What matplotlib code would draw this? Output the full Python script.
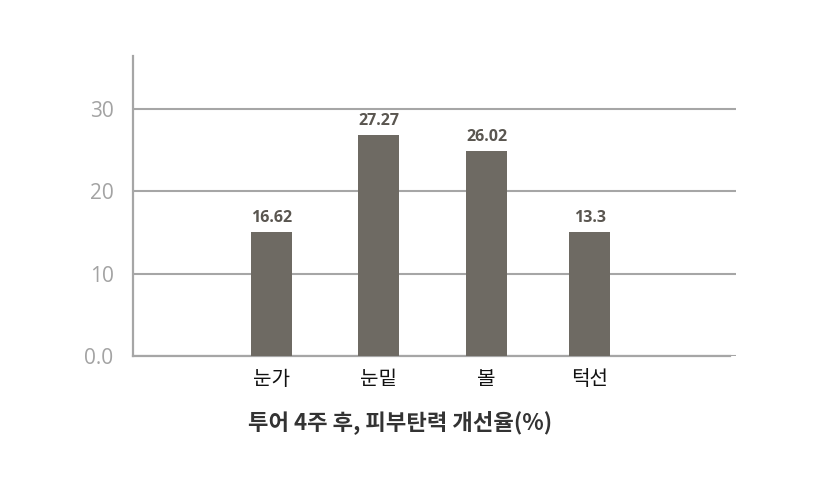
import matplotlib
matplotlib.use('Agg')
import matplotlib.pyplot as plt

# 데이터
categories = ['눈가', '눈밑', '볼', '턱선']
bar_heights = [15.1, 26.85, 24.9, 15.1]   # 그림에 그려진 막대 높이
bar_labels = ['16.62', '27.27', '26.02', '13.3']  # 막대 위 표시값
yticks = [0, 10, 20, 30]
ytick_labels = ['0.0', '10', '20', '30']
title = '투어 4주 후, 피부탄력 개선율(%)'

plt.rcParams['font.family'] = ['Noto Sans CJK KR', 'DejaVu Sans']

fig = plt.figure(figsize=(8.2, 4.9), dpi=100)
ax = fig.add_axes([133 / 820, 1 - 356 / 490, 603 / 820, 300 / 490])

x = [0, 1.01, 2.03, 3.0]
bars = ax.bar(x, bar_heights, width=0.385, color='#6e6a63', zorder=3)

for b, lab in zip(bars, bar_labels):
    ax.text(b.get_x() + b.get_width() / 2, b.get_height() + 0.7, lab,
            ha='center', va='bottom', fontsize=11.5, fontweight='bold',
            color='#5a5650', family=['Open Sans', 'DejaVu Sans'])

ax.set_xlim(-1.305, 4.38)
ax.set_ylim(0, 36.4)
ax.set_yticks(yticks)
ax.set_yticklabels(ytick_labels, fontsize=15, color='#a3a3a3',
                   family=['Open Sans', 'DejaVu Sans'])
ax.set_xticks(x)
ax.set_xticklabels(categories, fontsize=14.5, color='#111111', fontweight='medium')
ax.tick_params(axis='y', length=0, pad=14)
ax.tick_params(axis='x', length=0, pad=9)

ax.grid(axis='y', color='#a6a6a6', linewidth=1.5, zorder=1)
for s in ['top', 'right']:
    ax.spines[s].set_visible(False)
for s in ['left', 'bottom']:
    ax.spines[s].set_color('#a6a6a6')
    ax.spines[s].set_linewidth(1.6)
ax.spines['bottom'].set_bounds(-1.305, 4.32)

fig.text(400 / 820, 1 - 422 / 490, title, ha='center', va='center',
         fontsize=16, fontweight='bold', color='#333333')

fig.savefig('out.png', dpi=100)
